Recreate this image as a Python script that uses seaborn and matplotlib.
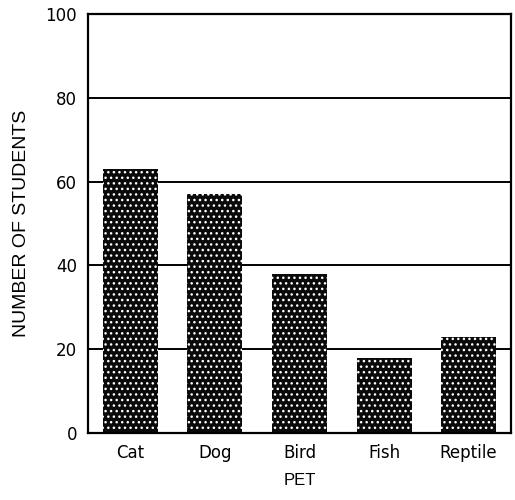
import pandas as pd
import matplotlib.pyplot as plt
import seaborn as sns

# pets and how many students picked each
pets = ['Cat', 'Dog', 'Bird', 'Fish', 'Reptile']
students = [63, 57, 38, 18, 23]
y_ticks = [0, 20, 40, 60, 80, 100]

df = pd.DataFrame({'pet': pets, 'students': students})

sns.set_style('white')
plt.rcParams['font.family'] = ['DejaVu Sans']

fig = plt.figure(figsize=(5.15, 5.0), dpi=100)
ax = fig.add_axes([0.171, 0.134, 0.821, 0.838])

# gridlines behind the bars
for t in y_ticks[1:-1]:
    ax.axhline(t, color='black', linewidth=1.4, zorder=0)

sns.barplot(x='pet', y='students', data=df, color='#0a0a0a', width=0.65,
            edgecolor='white', linewidth=0, hatch='...', ax=ax, zorder=2)
for bar in ax.patches:
    bar.set_facecolor('#0a0a0a')

ax.set_ylim(0, 100)
ax.set_xlim(-0.5, 4.5)
ax.set_yticks(y_ticks)
ax.tick_params(axis='both', length=0, labelsize=12, pad=8, colors='black')
ax.set_ylabel('NUMBER OF STUDENTS', fontsize=14, family='Liberation Sans',
              labelpad=11, color='black')
ax.set_xlabel('PET', fontsize=12, family='Liberation Sans', labelpad=8, color='black')

for side in ['left', 'bottom', 'top', 'right']:
    ax.spines[side].set_visible(True)
    ax.spines[side].set_color('black')
    ax.spines[side].set_linewidth(1.6)

plt.savefig('out.png', dpi=100)
